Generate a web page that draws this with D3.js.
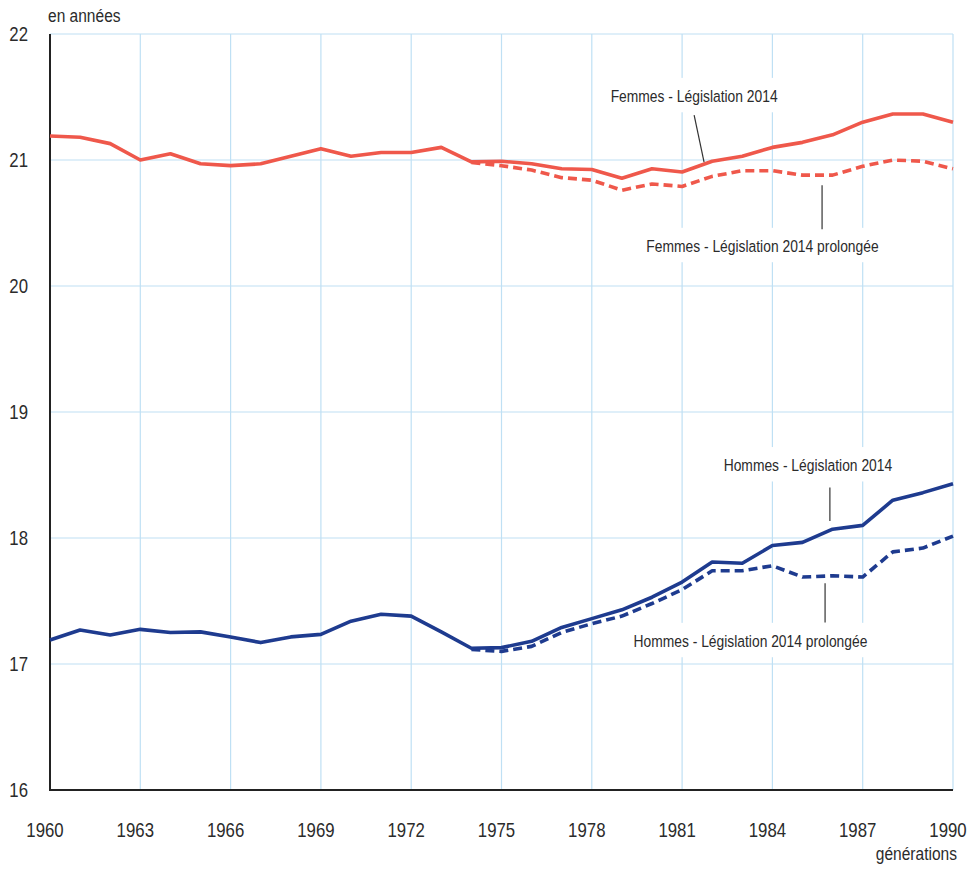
<!DOCTYPE html>
<html>
<head>
<meta charset="utf-8">
<script src="https://cdn.jsdelivr.net/npm/d3@7"></script>
<style>
body{margin:0;background:#fff;}
text{font-family:"Liberation Sans Narrow","Liberation Sans",Arial,sans-serif;fill:#2b2b2b;}
</style>
</head>
<body>
<div id="chart"></div>
<script>
var width=977, height=869;
var years=[1960,1961,1962,1963,1964,1965,1966,1967,1968,1969,1970,1971,1972,1973,1974,1975,1976,1977,1978,1979,1980,1981,1982,1983,1984,1985,1986,1987,1988,1989,1990];
var femmes=[21.19,21.18,21.13,21.00,21.05,20.97,20.955,20.97,21.03,21.09,21.03,21.06,21.06,21.10,20.985,20.99,20.97,20.93,20.925,20.855,20.93,20.905,20.99,21.03,21.10,21.14,21.20,21.30,21.365,21.365,21.30];
var hommes=[17.19,17.27,17.23,17.275,17.25,17.255,17.215,17.17,17.215,17.235,17.34,17.395,17.38,17.255,17.125,17.13,17.18,17.29,17.36,17.43,17.53,17.65,17.81,17.80,17.94,17.965,18.07,18.10,18.30,18.36,18.43];
// prolongée : à partir de 1974
var yearsProl=[1974,1975,1976,1977,1978,1979,1980,1981,1982,1983,1984,1985,1986,1987,1988,1989,1990];
var femmesProl=[20.98,20.955,20.92,20.86,20.84,20.76,20.81,20.79,20.87,20.915,20.915,20.88,20.88,20.95,21.00,20.99,20.93];
var hommesProl=[17.115,17.10,17.14,17.25,17.32,17.38,17.48,17.59,17.74,17.74,17.78,17.69,17.70,17.69,17.89,17.92,18.015];
var xTicks=[1960,1963,1966,1969,1972,1975,1978,1981,1984,1987,1990];
var yTicks=[16,17,18,19,20,21,22];
var labels=[
	{text:"Femmes - Législation 2014",x:1981.4,y:21.46,lx1:1981.4,ly1:21.357,lx2:1981.73,ly2:20.984},
	{text:"Femmes - Législation 2014 prolongée",x:1983.67,y:20.27,lx1:1985.65,ly1:20.80,lx2:1985.65,ly2:20.45},
	{text:"Hommes - Législation 2014",x:1985.18,y:18.53,lx1:1985.91,ly1:18.40,lx2:1985.91,ly2:18.135},
	{text:"Hommes - Législation 2014 prolongée",x:1983.27,y:17.135,lx1:1985.75,ly1:17.64,lx2:1985.75,ly2:17.33}
];

var red="#ef584b", blue="#1e3b8f", grid="#bfe0f4";
var squeeze=0.84; // police etroite simulee
var svg=d3.select("#chart").append("svg").attr("width",width).attr("height",height);
var x=d3.scaleLinear().domain([1960,1990]).range([50,953]);
var y=d3.scaleLinear().domain([16,22]).range([790,34]);

function ctext(g,txt,px,py,anchor,size){
	return g.append("text").text(txt).attr("x",0).attr("y",0)
		.attr("transform","translate("+px+","+py+") scale("+squeeze+",1)")
		.attr("text-anchor",anchor).attr("font-size",size);
}

// grille
svg.selectAll(".vg").data(xTicks.slice(1)).enter().append("line")
	.attr("x1",d=>x(d)).attr("x2",d=>x(d)).attr("y1",y(22)).attr("y2",y(16))
	.attr("stroke",grid).attr("stroke-width",1.2);
svg.selectAll(".hg").data(yTicks.slice(1)).enter().append("line")
	.attr("x1",x(1960)).attr("x2",x(1990)).attr("y1",d=>y(d)).attr("y2",d=>y(d))
	.attr("stroke",grid).attr("stroke-width",1.2);

// fonds blancs des etiquettes
var boxes=svg.append("g"), texts=svg.append("g");
labels.forEach(function(l){
	var t=ctext(texts,l.text,x(l.x),y(l.y),"middle",16.5);
	var b=t.node().getBBox();
	var w=b.width*squeeze;
	boxes.append("rect").attr("x",x(l.x)-w/2-14).attr("y",y(l.y)+b.y-9).attr("width",w+28).attr("height",b.height+16).attr("fill","#fff");
});

// axes
svg.append("line").attr("x1",x(1960)).attr("x2",x(1960)).attr("y1",y(22)).attr("y2",y(16)).attr("stroke","#222").attr("stroke-width",2);
svg.append("line").attr("x1",x(1960)-1).attr("x2",x(1990)).attr("y1",y(16)).attr("y2",y(16)).attr("stroke","#222").attr("stroke-width",2);

var line=d3.line().x(d=>x(d[0])).y(d=>y(d[1]));
function draw(xs,vs,col,dash){
	svg.append("path").datum(d3.zip(xs,vs)).attr("d",line).attr("fill","none")
		.attr("stroke",col).attr("stroke-width",3.6).attr("stroke-linejoin","round")
		.attr("stroke-dasharray",dash?"9,5":null);
}
draw(yearsProl,femmesProl,red,true);
draw(yearsProl,hommesProl,blue,true);
draw(years,femmes,red,false);
draw(years,hommes,blue,false);

// traits de rappel
labels.forEach(function(l){
	svg.append("line").attr("x1",x(l.lx1)).attr("y1",y(l.ly1)).attr("x2",x(l.lx2)).attr("y2",y(l.ly2))
		.attr("stroke","#333").attr("stroke-width",1.2);
});
svg.node().appendChild(texts.node());

// libelles des axes
xTicks.forEach(d=>ctext(svg,d,x(d)-5,837,"middle",20));
yTicks.forEach(d=>ctext(svg,d,28,y(d)+7,"end",20));
ctext(svg,"en années",48,22,"start",18.5);
ctext(svg,"générations",957,860,"end",18.5);
</script>
</body>
</html>
